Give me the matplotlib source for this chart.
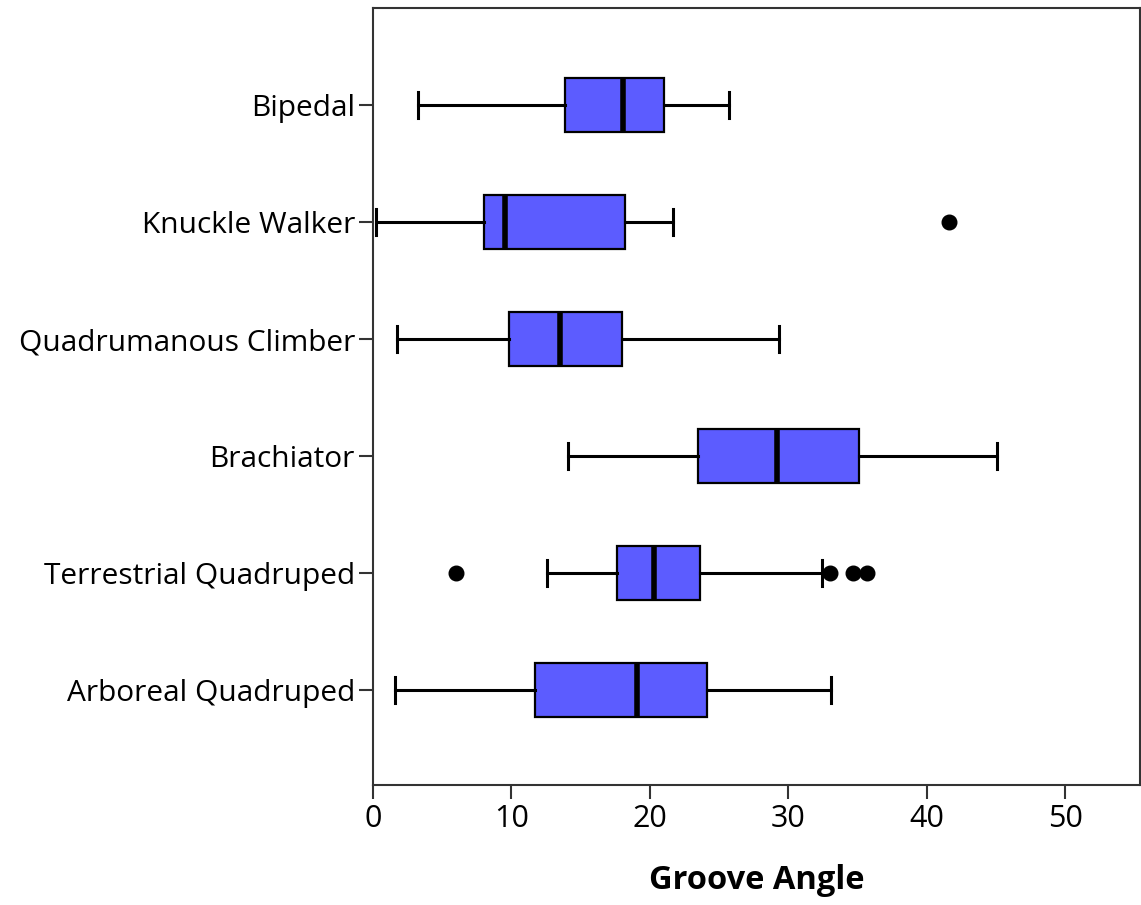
import matplotlib
matplotlib.use("Agg")
import matplotlib.pyplot as plt

# groups, bottom to top
groups = ["Arboreal Quadruped", "Terrestrial Quadruped", "Brachiator",
          "Quadrumanous Climber", "Knuckle Walker", "Bipedal"]
whis_lo = [1.6, 12.6, 14.1, 1.7, 0.25, 3.25]
q1 = [11.7, 17.6, 23.5, 9.8, 8.0, 13.9]
median = [19.1, 20.3, 29.2, 13.5, 9.55, 18.05]
q3 = [24.1, 23.6, 35.1, 17.95, 18.2, 21.0]
whis_hi = [33.05, 32.4, 45.1, 29.35, 21.65, 25.7]
outliers = [[], [6.0, 33.0, 34.7, 35.7], [], [], [41.6], []]

box_color = "#5c5cff"

stats = []
for i in range(len(groups)):
    stats.append({"whislo": whis_lo[i], "q1": q1[i], "med": median[i], "q3": q3[i],
                  "whishi": whis_hi[i], "fliers": outliers[i], "label": groups[i]})

plt.rcParams["font.family"] = ["Open Sans", "DejaVu Sans"]

fig = plt.figure(figsize=(11.41, 9.05), dpi=100)
ax = fig.add_axes([0.3269, 0.1326, 0.6722, 0.8586])

ax.bxp(stats, positions=range(1, len(groups) + 1), vert=False, widths=0.46,
       patch_artist=True, showfliers=True,
       boxprops=dict(facecolor=box_color, edgecolor="black", linewidth=1.6),
       medianprops=dict(color="black", linewidth=4),
       whiskerprops=dict(color="black", linewidth=2.2),
       capprops=dict(color="black", linewidth=2.2),
       capwidths=0.22,
       flierprops=dict(marker="o", markerfacecolor="black", markeredgecolor="black",
                       markersize=10.5))

ax.set_xlim(0, 55.4)
ax.set_ylim(0.19, 6.83)
ax.set_xticks([0, 10, 20, 30, 40, 50])
ax.set_yticks(range(1, len(groups) + 1))
ax.set_yticklabels(groups)
ax.tick_params(axis="both", width=1.5, length=10, color="#333333")
ax.tick_params(axis="y", labelsize=21.5, pad=3)
ax.tick_params(axis="x", labelsize=22, pad=4)
ax.set_xlabel("Groove Angle", fontsize=23.5, fontweight="bold", labelpad=21)

for s in ax.spines.values():
    s.set_color("#333333")
    s.set_linewidth(1.5)

fig.savefig("out.png", dpi=100)
